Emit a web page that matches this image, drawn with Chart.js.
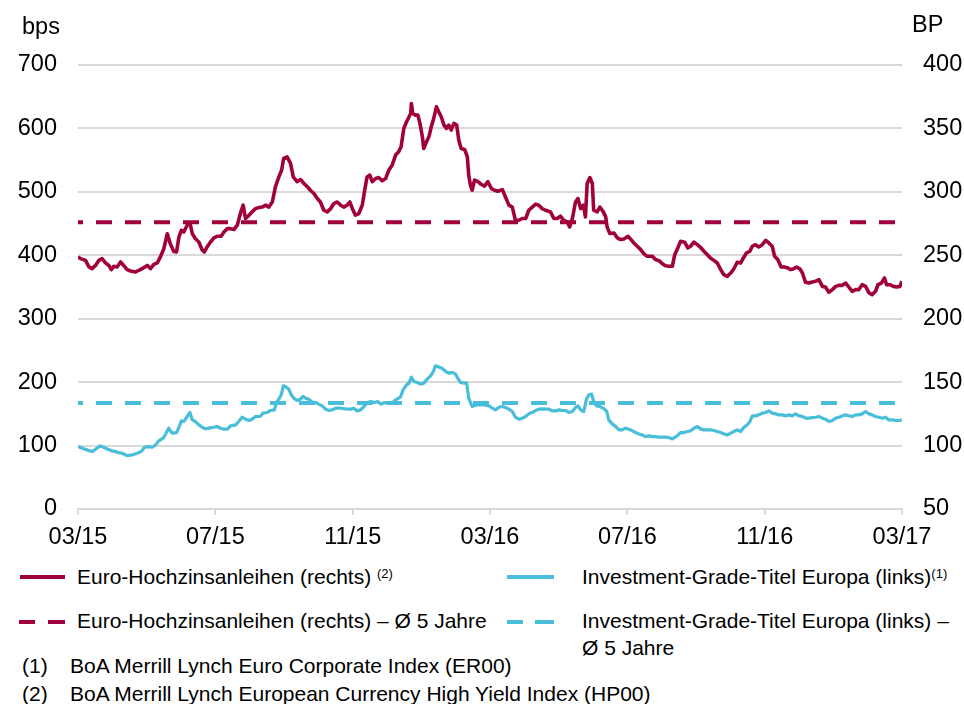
<!DOCTYPE html>
<html>
<head>
<meta charset="utf-8">
<script src="https://cdn.jsdelivr.net/npm/chart.js@4/dist/chart.umd.min.js"></script>
<style>
  html, body { margin: 0; padding: 0; background: #fff; }
  #wrap { position: relative; width: 964px; height: 704px; overflow: hidden;
          font-family: "Liberation Sans", Arial, sans-serif; color: #000; }
  #chart { position: absolute; left: 0; top: 0; }
  .t { position: absolute; font-size: 21px; line-height: 21px; white-space: nowrap; }
  .sup { font-size: 13px; position: relative; top: -6px; }
  .sw { position: absolute; height: 4px; }
</style>
</head>
<body>
<div id="wrap">
  <canvas id="chart" width="964" height="560"></canvas>

  <!-- legend -->
  <div class="sw" style="left:20px;top:575px;width:45px;background:#A0003C"></div>
  <div class="t" style="left:77px;top:566px">Euro-Hochzinsanleihen (rechts) <span class="sup">(2)</span></div>

  <div class="sw" style="left:507px;top:575px;width:47px;background:#48BEDB"></div>
  <div class="t" style="left:582px;top:566px">Investment-Grade-Titel Europa (links)<span class="sup">(1)</span></div>

  <div class="sw" style="left:19px;top:620px;width:16px;background:#A0003C"></div>
  <div class="sw" style="left:48px;top:620px;width:17px;background:#A0003C"></div>
  <div class="t" style="left:77px;top:610px">Euro-Hochzinsanleihen (rechts) – Ø 5 Jahre</div>

  <div class="sw" style="left:507px;top:620px;width:16px;background:#48BEDB"></div>
  <div class="sw" style="left:535px;top:620px;width:19px;background:#48BEDB"></div>
  <div class="t" style="left:582px;top:610px">Investment-Grade-Titel Europa (links) –</div>
  <div class="t" style="left:582px;top:637px">Ø 5 Jahre</div>

  <!-- footnotes -->
  <div class="t" style="left:22px;top:655px">(1)</div>
  <div class="t" style="left:70px;top:655px">BoA Merrill Lynch Euro Corporate Index (ER00)</div>
  <div class="t" style="left:22px;top:683px">(2)</div>
  <div class="t" style="left:70px;top:683px">BoA Merrill Lynch European Currency High Yield Index (HP00)</div>
</div>

<script>
// Time axis: months since March 2015, one tick label every four months
const tickLabels = ['03/15', '07/15', '11/15', '03/16', '07/16', '11/16', '03/17'];

// Euro high yield spread (right axis, BP)
const hyMonth = [0,0.07,0.22,0.32,0.41,0.51,0.61,0.70,0.80,0.90,0.97,1.04,1.14,1.24,1.33,1.43,1.53,1.67,1.77,1.87,
  2.02,2.11,2.21,2.31,2.40,2.50,2.60,2.69,2.79,2.87,2.94,3.01,3.08,3.18,3.26,3.33,3.42,3.52,3.62,3.68,
  3.76,3.86,3.96,4.05,4.17,4.25,4.35,4.44,4.54,4.64,4.73,4.81,4.88,4.98,5.07,5.17,5.27,5.37,5.46,5.56,
  5.66,5.75,5.85,5.93,5.99,6.09,6.19,6.27,6.38,6.48,6.58,6.68,6.77,6.87,6.97,7.06,7.16,7.26,7.36,7.45,
  7.55,7.65,7.74,7.84,7.92,7.99,8.08,8.18,8.28,8.35,8.42,8.50,8.57,8.67,8.76,8.86,8.96,9.05,9.15,9.25,
  9.34,9.41,9.49,9.57,9.64,9.69,9.71,9.75,9.83,9.90,9.96,10.03,10.07,10.15,10.22,10.29,10.36,10.44,10.51,10.58,
  10.66,10.73,10.80,10.87,10.95,11.03,11.09,11.16,11.26,11.34,11.38,11.43,11.48,11.55,11.65,11.74,11.84,11.94,12.04,12.13,
  12.23,12.36,12.45,12.55,12.65,12.74,12.84,12.94,13.04,13.13,13.23,13.33,13.42,13.52,13.62,13.76,13.86,13.96,14.05,14.15,
  14.25,14.32,14.40,14.49,14.56,14.64,14.72,14.78,14.83,14.91,14.98,15.02,15.12,15.20,15.30,15.37,15.41,15.49,15.61,15.71,
  15.80,15.90,16.02,16.09,16.19,16.29,16.39,16.48,16.58,16.73,16.82,16.92,17.02,17.11,17.21,17.31,17.38,17.45,17.55,17.67,
  17.76,17.84,17.94,18.04,18.13,18.23,18.33,18.42,18.52,18.62,18.72,18.81,18.91,19.01,19.10,19.20,19.30,19.38,19.47,19.57,
  19.64,19.73,19.83,19.93,20.03,20.12,20.22,20.29,20.38,20.48,20.58,20.68,20.75,20.83,20.93,21.03,21.10,21.19,21.29,21.39,
  21.48,21.58,21.68,21.77,21.87,21.97,22.07,22.16,22.26,22.36,22.45,22.55,22.65,22.74,22.84,22.94,23.04,23.13,23.23,23.30,
  23.40,23.49,23.55,23.65,23.75,23.85,23.94,24.00];
const hyBps = [248.7,247.4,246,240.8,239.5,242,246,247.4,244,242,238.7,241.3,240.8,244.7,242,238.7,237.6,236.8,238.2,239.5,
  242,239.5,242.9,244,248.7,255.3,267,259,253,252.6,264.5,269.7,268.4,273.7,275.5,267,263,260.5,254,252.6,
  256.6,260.5,263.7,265,265,268.4,271,271,270.3,273.7,283,289.5,279,281.5,284.2,286.8,287.6,288,289.5,288,
  292,304,311.8,317,326.3,327.6,322.4,311.8,308,309.7,306.6,304,301.3,298.7,294.7,292,285.5,284.2,286.8,290.8,
  292,289.5,288,289.5,292,286.8,281.6,282.9,289.5,301.3,311.8,313.2,308,310.5,311.3,308.7,310.5,317,321,329,
  331.6,335.5,350,355.3,359,361.8,369.7,361.8,360.5,360.5,354,343.4,334.2,339.5,343.4,351.3,357.9,367,363,359.2,
  352.6,350,352.6,348.7,354,352.6,340.8,334.2,333.4,327.6,313.2,305.3,301.3,309.2,308,306,304.5,308,302.6,301.3,
  300.5,301.8,296,289.5,288,277.6,277.6,279,279,285.5,288,290.3,289.5,286.8,285.5,284.2,279,279,280.9,277.6,
  276.3,272.4,279,292,294.7,286.8,289.5,280.3,306.6,311.3,306.6,285.5,284.2,288,284.2,280.3,272.4,267.1,267.6,263.7,
  262.4,262.9,265,262.9,259.7,257.1,254.5,251.3,249.2,249.2,246.6,245.8,243.4,241.8,241.3,241.3,250.5,254.5,261,260.3,
  255.8,257.1,260.3,258.4,256.3,253.2,250.5,247.9,246,243.9,238.7,234.7,233.4,236,239.2,244.5,243.9,247.9,251.8,253.2,
  257.1,258.4,256.6,258.4,261.8,259.7,257.1,249.2,246.6,240.8,240.8,240,238.7,239.2,240.8,239.2,236,228.7,228.1,229,
  229.5,230.8,225.5,225,220.8,222.9,225.5,226.3,226.3,228.1,225,221.6,222.9,222.9,226.8,225.5,220.3,219,221.6,226.8,
  228.1,232.1,226.8,226.8,225.5,225,225.5,229.5];

// Euro investment grade spread (left axis, bps)
const igMonth = [0,0.12,0.27,0.41,0.51,0.64,0.75,0.87,1.00,1.09,1.19,1.29,1.43,1.58,1.72,1.84,1.94,2.06,2.16,2.26,
  2.35,2.48,2.55,2.64,2.74,2.87,2.94,3.01,3.08,3.18,3.26,3.33,3.42,3.52,3.62,3.71,3.81,3.96,4.05,4.15,
  4.25,4.35,4.44,4.59,4.68,4.78,4.88,4.98,5.07,5.17,5.30,5.39,5.51,5.61,5.72,5.78,5.85,5.92,5.98,6.04,
  6.14,6.21,6.29,6.38,6.48,6.55,6.63,6.72,6.82,6.92,7.01,7.11,7.21,7.31,7.40,7.50,7.65,7.79,7.94,8.03,
  8.13,8.23,8.33,8.42,8.52,8.64,8.73,8.83,8.93,9.02,9.15,9.25,9.39,9.47,9.57,9.64,9.71,9.78,9.88,9.98,
  10.07,10.17,10.27,10.35,10.41,10.51,10.61,10.71,10.80,10.90,11.00,11.06,11.14,11.24,11.32,11.38,11.48,11.58,11.67,11.87,
  11.97,12.07,12.16,12.26,12.36,12.45,12.55,12.65,12.74,12.84,12.94,13.04,13.13,13.23,13.33,13.42,13.52,13.62,13.72,13.81,
  13.91,14.01,14.10,14.20,14.30,14.40,14.49,14.56,14.64,14.73,14.81,14.88,14.96,15.02,15.10,15.20,15.30,15.40,15.46,15.56,
  15.66,15.76,15.85,15.95,16.04,16.14,16.24,16.34,16.43,16.53,16.63,16.73,16.82,16.92,17.02,17.11,17.21,17.31,17.45,17.55,
  17.65,17.75,17.84,17.94,18.04,18.13,18.23,18.33,18.42,18.52,18.62,18.72,18.81,18.91,19.01,19.10,19.20,19.30,19.40,19.49,
  19.57,19.64,19.73,19.83,19.93,20.03,20.12,20.22,20.32,20.41,20.51,20.61,20.71,20.80,20.90,21.00,21.10,21.19,21.29,21.39,
  21.48,21.58,21.68,21.77,21.87,21.97,22.07,22.16,22.26,22.36,22.45,22.55,22.65,22.74,22.84,22.94,23.04,23.13,23.23,23.33,
  23.43,23.52,23.62,23.72,23.81,23.91,24.00];
const igBps = [98.4,95.8,93.2,90.5,94.2,99.5,97.4,94.2,91.6,90.5,88.9,87.9,84.2,85.3,87.9,90.5,97.4,98.4,97.4,101.1,
  107.4,111.6,117.9,127.4,119.5,120.5,128.9,139,137.9,145.8,152.1,140.5,137.9,132.6,128.9,126.3,127.4,128.9,130,127.4,
  125.8,125.8,131.1,132.6,137.9,144.7,141.6,139.5,141.6,145.8,145.8,151.1,152.1,155.3,156.3,167.9,173.2,180,194.2,193.2,
  188.9,180,174.7,171.1,173.2,177.4,174.7,173.2,168.4,167.9,165.3,162.6,157.4,155.3,156.3,158.9,158.9,157.9,157.4,158.9,
  154.7,156.3,161.6,166.8,169.5,167.9,169.5,165.3,167.9,166.8,166.8,172.1,176.3,187.9,195.8,198.4,207.9,201.1,199.5,196.8,
  198.4,204.7,210,216.8,225.8,223.7,221.6,216.8,214.2,215.3,212.6,206.3,199.5,198.4,198.4,174.7,161.6,164.2,164.2,164.2,
  162.6,158.9,156.3,160.5,161.6,160,157.4,153.7,144.7,141.6,143.2,145.8,150,152.1,155.3,157.4,157.9,157.4,157.4,154.7,
  154.7,156.3,155.3,155.3,152.1,153.7,160,162.6,156.3,153.7,173.2,180,181.1,169.5,162.6,161.6,158.9,153.7,140.5,134.2,
  130,124.7,124.7,127.4,125.8,123.7,120.5,118.4,116.8,114.2,115.3,114.2,114.2,113.2,113.2,113.2,112.6,110.5,115.3,120.5,
  120.5,122.1,123.2,127.4,130,126.3,124.7,124.7,124.7,123.7,122.1,120.5,118.4,116.8,119.5,122.1,124.7,122.1,128.9,132.6,
  137.9,146.8,146.8,148.4,151.1,152.1,154.7,151.1,150,148.4,148.4,146.8,148.4,146.8,150,146.8,145.8,143.2,143.2,144.2,
  144.7,145.8,143.2,141.6,137.9,139.5,143.2,144.7,146.8,148.4,146.8,145.8,148.4,148.4,150,153.7,150,148.4,145.8,144.7,
  143.2,144.7,140.5,140.5,139.5,139.5,140.5];

// Five-year averages
const hyAvg5y = 276;
const igAvg5y = 167;

const RED = '#A0003C';
const BLUE = '#48BEDB';
const GRID = '#d9d9d9';
const FONT = '"Liberation Sans", Arial, sans-serif';

const pairs = (xs, ys) => xs.map((x, i) => ({ x: x, y: ys[i] }));
const flat = (v) => [{ x: 0, y: v }, { x: 24, y: v }];

// Unit captions above both value axes
const axisCaptions = {
  id: 'axisCaptions',
  afterDraw(chart) {
    const ctx = chart.ctx;
    ctx.save();
    ctx.fillStyle = '#000';
    ctx.font = '23.5px ' + FONT;
    ctx.textBaseline = 'alphabetic';
    ctx.textAlign = 'left';
    ctx.fillText('bps', 22, 34);
    ctx.fillText('BP', 912, 32);
    ctx.restore();
  }
};

new Chart(document.getElementById('chart'), {
  type: 'line',
  data: {
    datasets: [
      { data: pairs(hyMonth, hyBps), yAxisID: 'yR', borderColor: RED, borderWidth: 3.6, order: 1 },
      { data: pairs(igMonth, igBps), yAxisID: 'yL', borderColor: BLUE, borderWidth: 3.2, order: 2 },
      { data: flat(hyAvg5y), yAxisID: 'yR', borderColor: RED, borderWidth: 4, borderDash: [16, 13], borderDashOffset: 11, order: 3 },
      { data: flat(igAvg5y), yAxisID: 'yL', borderColor: BLUE, borderWidth: 4, borderDash: [16, 13], borderDashOffset: 11, order: 4 }
    ]
  },
  options: {
    responsive: false,
    animation: false,
    devicePixelRatio: 1,
    layout: { padding: { top: 65, left: 0, right: 0, bottom: 0 } },
    elements: { point: { radius: 0, hoverRadius: 0 }, line: { tension: 0, fill: false, borderCapStyle: 'butt', borderJoinStyle: 'round' } },
    plugins: { legend: { display: false }, tooltip: { enabled: false } },
    scales: {
      x: {
        type: 'linear', min: 0, max: 24,
        afterFit: (s) => { s.height = 51; },
        grid: { drawOnChartArea: false, drawTicks: true, tickLength: 6, color: GRID, lineWidth: 2 },
        border: { display: true, color: GRID, width: 2 },
        ticks: {
          stepSize: 4, autoSkip: false, maxRotation: 0, padding: 8,
          color: '#000', font: { family: FONT, size: 23.5 },
          callback: (v) => tickLabels[v / 4]
        }
      },
      yL: {
        position: 'left', min: 0, max: 700,
        afterFit: (s) => { s.width = 78; },
        grid: { drawTicks: false, color: GRID, lineWidth: 2 },
        border: { display: false },
        ticks: { stepSize: 100, padding: 21, color: '#000', font: { family: FONT, size: 23.5 } }
      },
      yR: {
        position: 'right', min: 50, max: 400,
        afterFit: (s) => { s.width = 62; },
        grid: { drawOnChartArea: false, drawTicks: false },
        border: { display: false },
        ticks: { stepSize: 50, padding: 21, color: '#000', font: { family: FONT, size: 23.5 } }
      }
    }
  },
  plugins: [axisCaptions]
});
</script>
</body>
</html>
